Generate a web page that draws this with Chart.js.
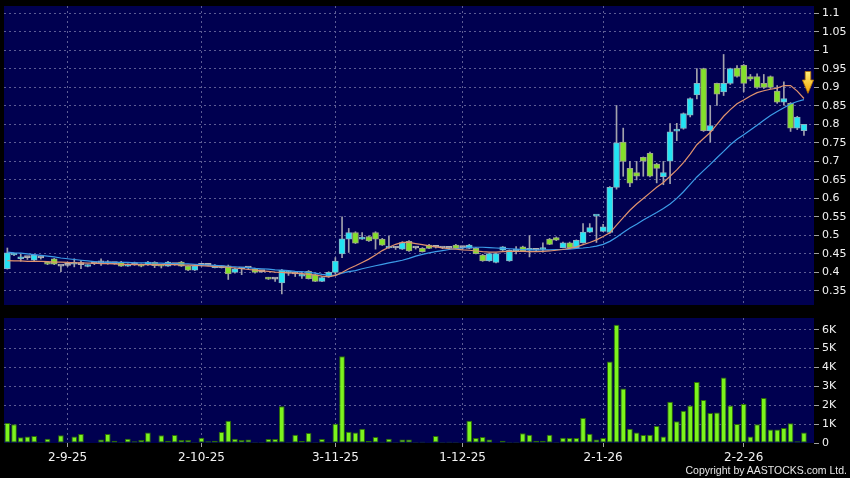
<!DOCTYPE html>
<html>
<head>
<meta charset="utf-8">
<script src="https://cdn.jsdelivr.net/npm/chart.js@4.4.1/dist/chart.umd.min.js"></script>
<style>
  html, body { margin:0; padding:0; background:#000; }
  #wrap { position:relative; width:850px; height:478px; background:#000; overflow:hidden; }
  #cPrice { position:absolute; left:0; top:0; }
  #cVol { position:absolute; left:0; top:312px; }
  #copy { position:absolute; right:3px; top:464px; font:10.5px 'Liberation Sans', Arial, sans-serif; color:#e6e6e6; white-space:nowrap; }
</style>
</head>
<body>
<div id="wrap">
  <canvas id="cPrice" width="850" height="312"></canvas>
  <canvas id="cVol" width="850" height="166"></canvas>
  <div id="copy">Copyright by AASTOCKS.com Ltd.</div>
</div>
<script>
// daily candles, 120 sessions (one empty slot on the right)
const N_SLOTS = 121;
const TICK_POS  = [9, 29, 49, 68, 89, 110];
const TICK_TEXT = ['2-9-25', '2-10-25', '3-11-25', '1-12-25', '2-1-26', '2-2-26'];

const OPEN = [
  0.410,0.447,0.437,0.440,0.433,0.439,0.428,0.437,0.417,0.419,
  0.422,0.421,0.416,0.424,0.426,0.424,0.424,0.428,0.417,0.421,
  0.421,0.421,0.427,0.421,0.417,0.421,0.428,0.417,0.406,0.419,
  0.419,0.413,0.413,0.418,0.400,0.410,0.412,0.410,0.402,0.386,
  0.382,0.372,0.398,0.396,0.390,0.403,0.394,0.376,0.389,0.400,
  0.450,0.490,0.508,0.490,0.497,0.508,0.490,0.466,0.466,0.463,
  0.484,0.466,0.465,0.474,0.468,0.466,0.465,0.474,0.467,0.465,
  0.465,0.447,0.431,0.427,0.460,0.431,0.458,0.469,0.460,0.460,
  0.462,0.490,0.494,0.467,0.480,0.467,0.480,0.509,0.552,0.511,
  0.508,0.630,0.752,0.681,0.670,0.711,0.722,0.693,0.659,0.701,
  0.782,0.789,0.825,0.880,0.951,0.783,0.911,0.888,0.911,0.952,
  0.960,0.929,0.929,0.911,0.929,0.890,0.860,0.857,0.790,0.783
];
const HIGH = [
  0.466,0.452,0.449,0.442,0.449,0.441,0.430,0.438,0.418,0.421,
  0.437,0.432,0.421,0.426,0.437,0.432,0.426,0.430,0.423,0.428,
  0.423,0.430,0.429,0.422,0.430,0.423,0.430,0.418,0.418,0.421,
  0.420,0.421,0.418,0.420,0.412,0.412,0.414,0.412,0.404,0.387,
  0.384,0.408,0.404,0.399,0.401,0.405,0.396,0.388,0.402,0.440,
  0.550,0.519,0.510,0.508,0.499,0.510,0.492,0.499,0.470,0.483,
  0.486,0.469,0.467,0.476,0.470,0.468,0.467,0.476,0.470,0.476,
  0.467,0.449,0.452,0.452,0.470,0.461,0.470,0.471,0.500,0.463,
  0.480,0.492,0.496,0.482,0.482,0.488,0.532,0.532,0.553,0.530,
  0.632,0.851,0.790,0.700,0.700,0.712,0.725,0.695,0.700,0.802,
  0.803,0.831,0.872,0.951,0.952,0.851,0.912,0.989,0.952,0.959,
  0.962,0.935,0.937,0.935,0.931,0.905,0.915,0.859,0.822,0.800
];
const LOW = [
  0.409,0.445,0.430,0.435,0.431,0.436,0.421,0.421,0.402,0.416,
  0.415,0.410,0.415,0.421,0.419,0.422,0.422,0.416,0.416,0.419,
  0.415,0.419,0.413,0.412,0.416,0.419,0.416,0.405,0.405,0.417,
  0.418,0.412,0.412,0.381,0.398,0.394,0.410,0.398,0.400,0.381,
  0.376,0.342,0.392,0.389,0.384,0.382,0.375,0.375,0.387,0.395,
  0.440,0.454,0.478,0.489,0.484,0.463,0.473,0.465,0.462,0.462,
  0.457,0.463,0.455,0.464,0.466,0.464,0.463,0.464,0.462,0.464,
  0.450,0.430,0.430,0.426,0.459,0.430,0.450,0.457,0.442,0.458,
  0.455,0.475,0.486,0.466,0.466,0.466,0.479,0.508,0.481,0.510,
  0.506,0.625,0.660,0.632,0.650,0.660,0.658,0.642,0.637,0.640,
  0.756,0.787,0.820,0.869,0.781,0.752,0.851,0.878,0.908,0.928,
  0.888,0.918,0.897,0.897,0.897,0.857,0.852,0.781,0.786,0.770
];
const CLOSE = [
  0.453,0.450,0.438,0.440,0.447,0.439,0.422,0.422,0.417,0.419,
  0.427,0.421,0.419,0.424,0.426,0.428,0.424,0.417,0.421,0.421,
  0.417,0.428,0.418,0.417,0.428,0.421,0.417,0.406,0.417,0.419,
  0.419,0.419,0.417,0.396,0.410,0.410,0.412,0.400,0.402,0.382,
  0.382,0.406,0.399,0.396,0.391,0.383,0.376,0.386,0.400,0.431,
  0.491,0.508,0.479,0.491,0.485,0.490,0.474,0.467,0.466,0.481,
  0.458,0.466,0.456,0.465,0.468,0.466,0.465,0.465,0.467,0.474,
  0.451,0.431,0.451,0.451,0.469,0.460,0.459,0.458,0.461,0.460,
  0.463,0.476,0.487,0.480,0.467,0.487,0.509,0.521,0.553,0.523,
  0.630,0.750,0.700,0.641,0.660,0.701,0.660,0.681,0.670,0.780,
  0.783,0.829,0.870,0.911,0.783,0.797,0.882,0.911,0.951,0.930,
  0.911,0.922,0.900,0.900,0.900,0.860,0.870,0.790,0.820,0.800
];
const VOLUME = [
  1060,990,300,340,370,50,230,20,410,70,
  350,480,40,30,180,480,120,5,230,90,
  160,550,30,410,120,420,160,160,5,280,
  90,120,580,1180,230,160,180,50,5,210,
  210,1940,5,440,100,530,50,210,50,1020,
  4600,600,550,760,110,320,70,230,50,180,
  180,5,70,10,370,5,70,5,15,1180,
  260,320,190,20,120,50,50,510,440,120,
  120,440,50,280,260,260,1320,490,190,260,
  4320,6260,2890,760,550,420,440,900,340,2190,
  1150,1710,1980,3230,2280,1590,1620,3470,1990,1010,
  2060,350,990,2380,710,720,790,1040,90,560
];
// moving averages as drawn on the chart
const MA_SHORT = [
  0.432,0.431,0.431,0.430,0.430,0.430,0.429,0.428,0.428,0.427,
  0.426,0.426,0.425,0.425,0.424,0.424,0.423,0.422,0.422,0.421,
  0.421,0.421,0.421,0.421,0.421,0.421,0.420,0.420,0.419,0.418,
  0.417,0.416,0.415,0.414,0.412,0.410,0.408,0.406,0.404,0.403,
  0.401,0.400,0.399,0.398,0.397,0.395,0.393,0.390,0.388,0.392,
  0.400,0.410,0.418,0.427,0.436,0.447,0.459,0.468,0.476,0.481,
  0.481,0.478,0.475,0.472,0.469,0.466,0.464,0.463,0.461,0.460,
  0.458,0.456,0.455,0.455,0.456,0.457,0.457,0.457,0.456,0.456,
  0.457,0.458,0.460,0.462,0.465,0.469,0.475,0.481,0.488,0.497,
  0.507,0.528,0.548,0.568,0.585,0.600,0.615,0.630,0.643,0.660,
  0.677,0.697,0.720,0.745,0.762,0.778,0.800,0.822,0.840,0.856,
  0.866,0.877,0.886,0.891,0.895,0.898,0.905,0.905,0.890,0.870
];
const MA_LONG = [
  0.455,0.453,0.452,0.450,0.448,0.446,0.444,0.442,0.439,0.437,
  0.435,0.433,0.431,0.429,0.428,0.427,0.427,0.427,0.427,0.426,
  0.426,0.426,0.425,0.425,0.424,0.424,0.423,0.423,0.422,0.421,
  0.420,0.419,0.418,0.416,0.415,0.414,0.413,0.411,0.410,0.409,
  0.407,0.406,0.405,0.403,0.402,0.400,0.398,0.395,0.393,0.392,
  0.398,0.402,0.405,0.410,0.414,0.418,0.422,0.426,0.429,0.433,
  0.438,0.444,0.449,0.453,0.456,0.459,0.462,0.464,0.466,0.468,
  0.468,0.468,0.467,0.466,0.465,0.464,0.463,0.462,0.461,0.461,
  0.461,0.461,0.462,0.462,0.463,0.465,0.466,0.468,0.471,0.476,
  0.484,0.495,0.508,0.520,0.530,0.542,0.552,0.562,0.573,0.585,
  0.600,0.618,0.638,0.658,0.675,0.692,0.710,0.727,0.745,0.760,
  0.772,0.785,0.798,0.811,0.824,0.835,0.845,0.855,0.862,0.867
];
const PRICE_TICKS = [0.35,0.4,0.45,0.5,0.55,0.6,0.65,0.7,0.75,0.8,0.85,0.9,0.95,1,1.05,1.1];
const VOL_TICKS = [0,1000,2000,3000,4000,5000,6000];
const ARROW = {at:119.6, top:0.943, neck:0.920, tip:0.884};

const C = {plot:'#000050', grid:'#5c5c94', tick:'#a0a0a0', text:'#f2f2f2',
  up:'#22e4f4', upEdge:'#86b4c4', down:'#84e02a', downEdge:'#9ea686', flat:'#b4b4b4',
  wick:'#a2a2ac', vol:'#7cf41c', volEdge:'#2c6a08', maS:'#e0926e', maL:'#3c9ce8'};

Chart.defaults.font.family = "'DejaVu Sans', Verdana, sans-serif";
Chart.defaults.color = C.text;

const labels = Array.from({length:N_SLOTS}, (_, i) => {
  const k = TICK_POS.indexOf(i); return k >= 0 ? TICK_TEXT[k] : '';
});
const tone = (o, c, a, b, f) => c > o ? a : (c < o ? b : f);

const plotBg = {id:'plotBg', beforeDraw(chart){
  const {ctx, chartArea:a} = chart;
  ctx.save(); ctx.fillStyle = C.plot;
  ctx.fillRect(a.left, a.top, a.right - a.left, a.bottom - a.top);
  ctx.restore();
}};

const arrowMark = {id:'arrowMark', afterDatasetsDraw(chart){
  const {ctx, scales:{x, y}} = chart;
  const cx = x.getPixelForValue(ARROW.at);
  const yT = y.getPixelForValue(ARROW.top), yN = y.getPixelForValue(ARROW.neck), yP = y.getPixelForValue(ARROW.tip);
  const sw = 2.8, hw = 5.6;
  ctx.save();
  const g = ctx.createLinearGradient(0, yT, 0, yP);
  g.addColorStop(0, '#fff07a'); g.addColorStop(1, '#f4a400');
  ctx.beginPath();
  ctx.moveTo(cx - sw, yT); ctx.lineTo(cx + sw, yT); ctx.lineTo(cx + sw, yN);
  ctx.lineTo(cx + hw, yN); ctx.lineTo(cx, yP); ctx.lineTo(cx - hw, yN); ctx.lineTo(cx - sw, yN);
  ctx.closePath();
  ctx.fillStyle = g; ctx.fill();
  ctx.strokeStyle = '#b87400'; ctx.lineWidth = 0.8; ctx.stroke();
  ctx.restore();
}};

const gridAtTicks = ctx => TICK_POS.includes(ctx.index) ? C.grid : 'transparent';
// right axis: fixed width, no extra label padding so the plot keeps its edges
const fitRight = s => { s.width = 36; s.paddingTop = 0; s.paddingBottom = 0; };

// price panel
new Chart(document.getElementById('cPrice'), {
  type:'bar',
  data:{labels, datasets:[
    {type:'line', data:MA_SHORT, borderColor:C.maS, borderWidth:1.2, pointRadius:0, order:0},
    {type:'line', data:MA_LONG, borderColor:C.maL, borderWidth:1.2, pointRadius:0, order:0},
    {data:OPEN.map((o, i) => [o, CLOSE[i]]),
     backgroundColor:OPEN.map((o, i) => tone(o, CLOSE[i], C.up, C.down, C.flat)),
     borderColor:OPEN.map((o, i) => tone(o, CLOSE[i], C.upEdge, C.downEdge, C.flat)),
     borderWidth:1, borderSkipped:false, barThickness:6, minBarLength:2, grouped:false, order:1},
    {data:LOW.map((l, i) => [l, HIGH[i]]), backgroundColor:C.wick, barThickness:1, grouped:false, order:2}
  ]},
  options:{responsive:false, animation:false, devicePixelRatio:1,
    layout:{padding:{left:4, top:6, right:0, bottom:7}},
    plugins:{legend:{display:false}, tooltip:{enabled:false}},
    scales:{
      x:{offset:true, ticks:{display:false},
         grid:{offset:false, color:gridAtTicks, drawTicks:false},
         border:{display:false, dash:[2,3]},
         afterFit:s => { s.height = 0; s.paddingLeft = 0; s.paddingRight = 0; }},
      y:{position:'right', min:0.312, max:1.12,
         afterBuildTicks:s => { s.ticks = PRICE_TICKS.map(v => ({value:v})); },
         ticks:{font:{size:11}, padding:3, callback:v => String(+v.toFixed(2))},
         grid:{color:C.grid, tickColor:C.tick, tickLength:5, tickBorderDash:[]},
         border:{display:false, dash:[2,3]},
         afterFit:fitRight}
    }},
  plugins:[plotBg, arrowMark]
});

// volume panel
new Chart(document.getElementById('cVol'), {
  type:'bar',
  data:{labels, datasets:[
    {data:VOLUME, backgroundColor:C.vol, borderColor:C.volEdge, borderWidth:1, borderSkipped:false,
     barPercentage:0.85, categoryPercentage:1}
  ]},
  options:{responsive:false, animation:false, devicePixelRatio:1,
    layout:{padding:{left:4, top:6, right:0, bottom:0}},
    plugins:{legend:{display:false}, tooltip:{enabled:false}},
    scales:{
      x:{offset:true,
         ticks:{autoSkip:false, maxRotation:0, minRotation:0, font:{size:12}, padding:4},
         grid:{offset:false, color:gridAtTicks, tickColor:ctx => TICK_POS.includes(ctx.index) ? C.tick : 'transparent', tickLength:4, tickBorderDash:[]},
         border:{display:false, dash:[2,3]},
         afterFit:s => { s.height = 35; s.paddingLeft = 0; s.paddingRight = 0; }},
      y:{position:'right', min:0, max:6620,
         afterBuildTicks:s => { s.ticks = VOL_TICKS.map(v => ({value:v})); },
         ticks:{font:{size:11}, padding:3, callback:v => v === 0 ? '0' : (v / 1000) + 'K'},
         grid:{color:ctx => ctx.tick && ctx.tick.value === 0 ? 'transparent' : C.grid, tickColor:C.tick, tickLength:5, tickBorderDash:[]},
         border:{display:false, dash:[2,3]},
         afterFit:fitRight}
    }},
  plugins:[plotBg]
});
</script>
</body>
</html>
